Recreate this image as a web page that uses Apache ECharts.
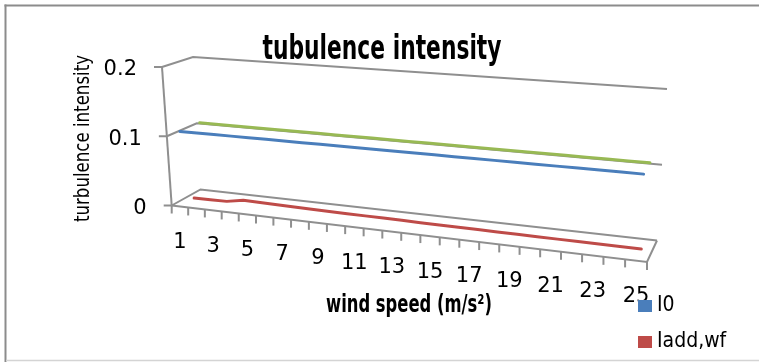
<!DOCTYPE html>
<html>
<head>
<meta charset="utf-8">
<script src="https://cdn.jsdelivr.net/npm/echarts@6.0.0/dist/echarts.min.js"></script>
<style>
html,body{margin:0;padding:0;background:#fff;overflow:hidden;}
#chart{width:759px;height:362px;}
</style>
</head>
<body>
<div id="chart"></div>
<script>
// ---------------- data ----------------
const windSpeed = ['1','2','3','4','5','6','7','8','9','10','11','12','13','14','15','16','17','18','19','20','21','22','23','24','25'];
const xTickLabels = ['1','','3','','5','','7','','9','','11','','13','','15','','17','','19','','21','','23','','25'];
const I0 = [0.105,0.105,0.105,0.105,0.105,0.105,0.105,0.105,0.105,0.105,0.105,0.105,0.105,0.105,0.105,0.105,0.105,0.105,0.105,0.105,0.105,0.105,0.105,0.105,0.105];
const IaddWf = [0.0005,0.0008,0.0012,0.0055,0.005,0.0046,0.0043,0.004,0.0037,0.0034,0.0032,0.003,0.0028,0.0026,0.0024,0.0023,0.0021,0.002,0.0018,0.0017,0.0016,0.0015,0.0014,0.0013,0.0012];
const Ieff = [0.105,0.105,0.105,0.105,0.105,0.105,0.105,0.105,0.105,0.105,0.105,0.105,0.105,0.105,0.105,0.105,0.105,0.105,0.105,0.105,0.105,0.105,0.105,0.105,0.105];
const yTicks = [0, 0.1, 0.2];
const yTickLabels = ['0', '0.1', '0.2'];
const seriesNames = ['I0', 'Iadd,wf', 'Ieff'];

// ---------------- layout / styles ----------------
const NARROW = '"Liberation Sans Narrow","DejaVu Sans Condensed","Roboto Condensed",sans-serif';
const TICKFONT = '21px "DejaVu Sans", sans-serif';
const GREY = '#8f8f8f';
const COLORS = ['#4a7ebb', '#be4b48', '#98b954'];
const DEPTH = [1/6, 1/2, 5/6];
// perspective frame (pixel corners of the 3D box)
const A = 1.16;
const FRAME = {
  fb: [[171.7, 205.5], [647, 262]],
  ft: [[162, 67], [659, 102]],
  bb: [[200.5, 189.5], [657, 240.5]],
  bt: [[193, 57], [667, 89]]
};
function warp(u) { return u / (A + (1 - A) * u); }
function lerp(a, b, t) { return [a[0] + (b[0] - a[0]) * t, a[1] + (b[1] - a[1]) * t]; }
function proj(u, v, w) {
  const t = warp(u);
  const fb = lerp(FRAME.fb[0], FRAME.fb[1], t), ft = lerp(FRAME.ft[0], FRAME.ft[1], t);
  const bb = lerp(FRAME.bb[0], FRAME.bb[1], t), bt = lerp(FRAME.bt[0], FRAME.bt[1], t);
  return lerp(lerp(fb, ft, v), lerp(bb, bt, v), w);
}
function normU(params, pt) { const cs = params.coordSys; return (pt[0] - cs.x) / cs.width; }
function normV(params, pt) { const cs = params.coordSys; return (cs.y + cs.height - pt[1]) / cs.height; }
const LS = { stroke: GREY, lineWidth: 2, fill: 'none' };

function renderGrid(params, api) {
  const v = api.value(1);
  const vn = normV(params, api.coord([0, v]));
  const fl = proj(0, vn, 0), bl = proj(0, vn, 1), br = proj(1, vn, 1);
  return { type: 'group', children: [
    { type: 'polyline', shape: { points: [fl, bl, br] }, style: LS },
    { type: 'line', shape: { x1: fl[0] - 8, y1: fl[1], x2: fl[0], y2: fl[1] }, style: LS },
    { type: 'text', x: fl[0] - 25, y: fl[1] + 3, style: { text: yTickLabels[params.dataIndex], font: TICKFONT, fill: '#000', align: 'right', verticalAlign: 'middle' } }
  ] };
}
function renderFloor(params, api) {
  if (params.dataIndex !== 0) return;
  const topV = normV(params, api.coord([0, yTicks[yTicks.length - 1]]));
  const f0 = proj(0, 0, 0), f1 = proj(1, 0, 0), b1 = proj(1, 0, 1), ft = proj(0, topV, 0);
  return { type: 'group', children: [
    { type: 'polyline', shape: { points: [f0, f1, b1] }, style: LS },
    { type: 'line', shape: { x1: f0[0], y1: f0[1], x2: ft[0], y2: ft[1] }, style: LS }
  ] };
}
function renderX(params, api) {
  const i = api.value(0);
  const c = api.coord([i, 0]);
  const band = api.size([1, 0])[0];
  const uL = normU(params, [c[0] - band / 2, 0]);
  const uC = normU(params, c);
  const uR = normU(params, [c[0] + band / 2, 0]);
  const children = [];
  const addTick = function (u) {
    const p = proj(u, 0, 0);
    children.push({ type: 'line', shape: { x1: p[0], y1: p[1], x2: p[0], y2: p[1] + 8 }, style: LS });
  };
  addTick(uL);
  if (i === windSpeed.length - 1) addTick(uR);
  const lab = xTickLabels[i];
  if (lab) {
    const p = proj(uC, 0, 0);
    children.push({ type: 'text', x: p[0], y: p[1] + 36, style: { text: lab, font: TICKFONT, fill: '#000', align: 'center', verticalAlign: 'middle' } });
  }
  return { type: 'group', children: children };
}
function makeLine(values, depth) {
  return function (params, api) {
    if (params.dataIndex !== 0) return;
    const pts = values.map(function (v, i) {
      const c = api.coord([i, v]);
      return proj(normU(params, c), normV(params, c), depth);
    });
    return { type: 'polyline', shape: { points: pts }, style: { stroke: api.visual('color'), lineWidth: 3, fill: 'none', lineJoin: 'round', lineCap: 'round' } };
  };
}

// text scaling helpers (condensed look)
const ctx = document.createElement('canvas').getContext('2d');
function fitScale(text, font, target) { ctx.font = font; return target / ctx.measureText(text).width; }
const TITLE = 'tubulence intensity';
const TITLEFONT = 'bold 33px ' + NARROW;
const YNAME = 'turbulence intensity';
const YNAMEFONT = '21px ' + NARROW;
const XNAME = 'wind speed (m/s\u00B2)';
const XNAMEFONT = 'bold 25px ' + NARROW;

const legendBase = {
  orient: 'vertical', left: 638, itemWidth: 14, itemHeight: 12, itemGap: 10,
  icon: 'rect', padding: 0,
  textStyle: { fontFamily: NARROW, fontSize: 21, color: '#000', lineHeight: 26 }
};

const lineData = [I0, IaddWf, Ieff];
const chart = echarts.init(document.getElementById('chart'), null, { renderer: 'canvas' });
chart.setOption({
  animation: false,
  backgroundColor: '#fff',
  grid: { left: 0, top: 0, width: 250, height: 200, show: false },
  xAxis: { type: 'category', data: windSpeed, show: false, boundaryGap: true },
  yAxis: { type: 'value', min: 0, max: 0.2, interval: 0.1, show: false },
  legend: [
    Object.assign({}, legendBase, { top: 293, data: [seriesNames[0]] }),
    Object.assign({}, legendBase, { top: 329, data: [seriesNames[1]] })
  ],
  graphic: [
    { type: 'line', silent: true, shape: { x1: 5.5, y1: 4.5, x2: 5.5, y2: 362 }, style: { stroke: '#8c8c8c', lineWidth: 2 } },
    { type: 'line', silent: true, shape: { x1: 4.5, y1: 5.5, x2: 759, y2: 5.5 }, style: { stroke: '#8c8c8c', lineWidth: 2 } },
    { type: 'line', silent: true, shape: { x1: 6, y1: 360.5, x2: 759, y2: 360.5 }, style: { stroke: '#d4d4d4', lineWidth: 1.5 } },
    { type: 'text', x: 382, y: 50, scaleX: fitScale(TITLE, TITLEFONT, 239), style: { text: TITLE, font: TITLEFONT, fill: '#000', align: 'center', verticalAlign: 'middle' } },
    { type: 'text', x: 84, y: 138.5, rotation: Math.PI / 2, scaleX: fitScale(YNAME, YNAMEFONT, 167), style: { text: YNAME, font: YNAMEFONT, fill: '#000', align: 'center', verticalAlign: 'middle' } },
    { type: 'text', x: 409, y: 305, scaleX: fitScale(XNAME, XNAMEFONT, 166), style: { text: XNAME, font: XNAMEFONT, fill: '#000', align: 'center', verticalAlign: 'middle' } }
  ],
  series: [
    { type: 'custom', name: 'grid', silent: true, clip: false, renderItem: renderGrid, data: yTicks.map(function (v) { return [0, v]; }), z: 1 },
    { type: 'custom', name: 'floor', silent: true, clip: false, renderItem: renderFloor, data: [[0, 0]], z: 1 },
    { type: 'custom', name: 'xticks', silent: true, clip: false, renderItem: renderX, data: windSpeed.map(function (c, i) { return [i, 0]; }), z: 1 }
  ].concat(lineData.map(function (vals, s) {
    return {
      type: 'custom', name: seriesNames[s], clip: false, z: 2,
      itemStyle: { color: COLORS[s] },
      renderItem: makeLine(vals, DEPTH[s]),
      data: vals.map(function (v, i) { return [i, v]; })
    };
  }))
});
</script>
</body>
</html>
